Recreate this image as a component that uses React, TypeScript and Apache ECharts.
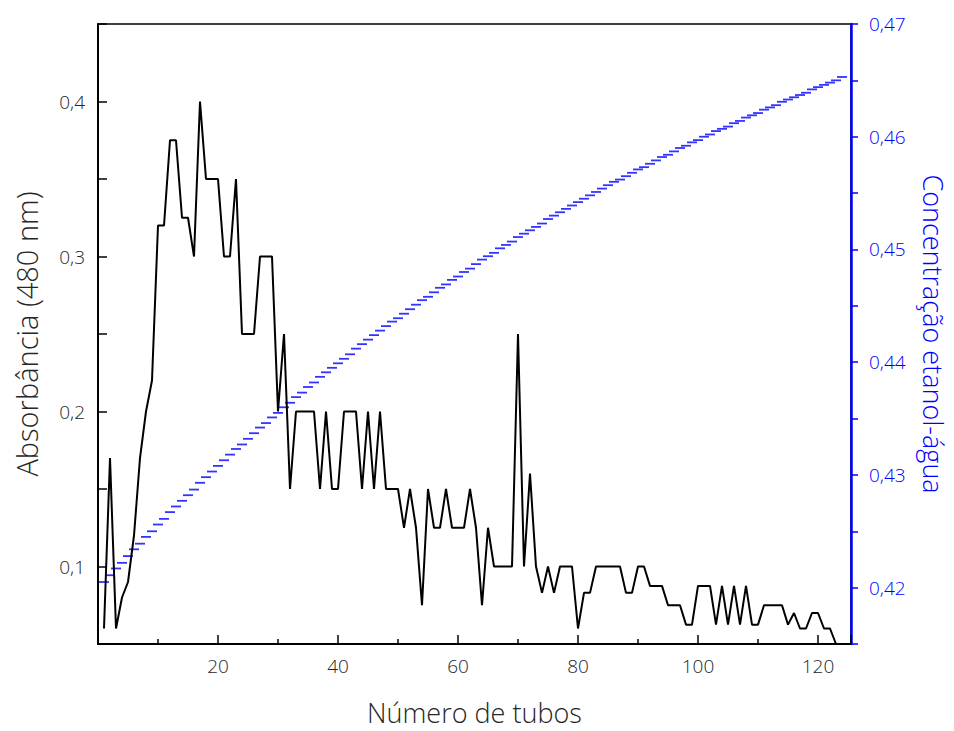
import React, { useEffect, useRef } from 'react';
import * as echarts from 'echarts';

// Absorbância (480 nm) for tubes 1..123
const absorbance = [
  0.06, 0.17, 0.06, 0.08, 0.09, 0.12, 0.17, 0.2, 0.22, 0.32,
  0.32, 0.375, 0.375, 0.325, 0.325, 0.3, 0.4, 0.35, 0.35, 0.35,
  0.3, 0.3, 0.35, 0.25, 0.25, 0.25, 0.3, 0.3, 0.3, 0.2,
  0.25, 0.15, 0.2, 0.2, 0.2, 0.2, 0.15, 0.2, 0.15, 0.15,
  0.2, 0.2, 0.2, 0.15, 0.2, 0.15, 0.2, 0.15, 0.15, 0.15,
  0.125, 0.15, 0.125, 0.075, 0.15, 0.125, 0.125, 0.15, 0.125, 0.125,
  0.125, 0.15, 0.125, 0.075, 0.125, 0.1, 0.1, 0.1, 0.1, 0.25,
  0.1, 0.16, 0.1, 0.083, 0.1, 0.083, 0.1, 0.1, 0.1, 0.06,
  0.083, 0.083, 0.1, 0.1, 0.1, 0.1, 0.1, 0.083, 0.083, 0.1,
  0.1, 0.0875, 0.0875, 0.0875, 0.075, 0.075, 0.075, 0.0625, 0.0625, 0.0875,
  0.0875, 0.0875, 0.0625, 0.0875, 0.0625, 0.0875, 0.0625, 0.0875, 0.0625, 0.0625,
  0.075, 0.075, 0.075, 0.075, 0.0625, 0.07, 0.06, 0.06, 0.07, 0.07,
  0.06, 0.06, 0.05,
];

// Concentração etanol-água for tubes 1..124
const concentration = [
  0.4205, 0.4211, 0.4217, 0.4222, 0.4228, 0.4234, 0.4239, 0.4245, 0.4250, 0.4256,
  0.4261, 0.4267, 0.4272, 0.4277, 0.4282, 0.4287, 0.4293, 0.4298, 0.4303, 0.4308,
  0.4313, 0.4318, 0.4323, 0.4327, 0.4332, 0.4337, 0.4342, 0.4346, 0.4351, 0.4355,
  0.4360, 0.4364, 0.4369, 0.4373, 0.4378, 0.4382, 0.4387, 0.4391, 0.4395, 0.4399,
  0.4403, 0.4407, 0.4412, 0.4416, 0.4420, 0.4424, 0.4428, 0.4432, 0.4436, 0.4439,
  0.4443, 0.4447, 0.4451, 0.4455, 0.4458, 0.4462, 0.4466, 0.4469, 0.4473, 0.4476,
  0.4480, 0.4483, 0.4487, 0.4491, 0.4494, 0.4497, 0.4501, 0.4504, 0.4507, 0.4511,
  0.4514, 0.4517, 0.4520, 0.4523, 0.4527, 0.4530, 0.4533, 0.4536, 0.4539, 0.4542,
  0.4545, 0.4548, 0.4551, 0.4554, 0.4557, 0.4560, 0.4562, 0.4565, 0.4568, 0.4571,
  0.4573, 0.4576, 0.4579, 0.4582, 0.4584, 0.4587, 0.4590, 0.4592, 0.4595, 0.4597,
  0.4600, 0.4602, 0.4605, 0.4607, 0.4609, 0.4612, 0.4614, 0.4617, 0.4619, 0.4621,
  0.4624, 0.4626, 0.4628, 0.4631, 0.4633, 0.4635, 0.4637, 0.4639, 0.4642, 0.4644,
  0.4646, 0.4648, 0.4650, 0.4653,
];

const xLabels = [20, 40, 60, 80, 100, 120];
const leftLabels = [0.1, 0.2, 0.3, 0.4];
const rightLabels = [0.42, 0.43, 0.44, 0.45, 0.46, 0.47];

const FONT = '"Open Sans", "DejaVu Sans", sans-serif';
const BLUE = '#0000ff';
const TEXT = '#262626';

const near = (list: number[], v: number, eps: number) => list.some((l) => Math.abs(l - v) < eps);
const comma = (v: number, d: number) => v.toFixed(d).replace('.', ',');

export default function App() {
  const ref = useRef<HTMLDivElement>(null);
  useEffect(() => {
    const chart = echarts.init(ref.current!, null, { renderer: 'svg' });
    chart.setOption({
      animation: false,
      grid: {
        left: 98, right: 103, top: 24, bottom: 87,
        containLabel: false, outerBoundsMode: 'none',
        show: true, borderColor: '#000', borderWidth: 1.5, backgroundColor: 'transparent',
      },
      xAxis: {
        type: 'value', min: 0, max: 125.5, interval: 20,
        name: 'Número de tubos', nameLocation: 'middle', nameGap: 55,
        nameTextStyle: { fontSize: 27, lineHeight: 27, color: TEXT, fontFamily: FONT, fontWeight: 300 },
        axisLine: { show: true, lineStyle: { color: '#000', width: 2 } },
        axisTick: { show: true, inside: true, length: 9, lineStyle: { color: '#000', width: 1.5 } },
        minorTick: { show: true, splitNumber: 2, length: 5, lineStyle: { color: '#000', width: 1.5 } },
        splitLine: { show: false },
        axisLabel: {
          margin: 12, fontSize: 19, color: TEXT, fontFamily: FONT, fontWeight: 300,
          formatter: (v: number) => (near(xLabels, v, 0.01) ? String(v) : ''),
        },
      },
      yAxis: [
        {
          type: 'value', position: 'left', min: 0.05, max: 0.45, interval: 0.05,
          name: 'Absorbância (480 nm)', nameLocation: 'middle', nameGap: 57, nameRotate: 90,
          nameTextStyle: { fontSize: 29, color: TEXT, fontFamily: FONT, fontWeight: 300 },
          axisLine: { show: true, lineStyle: { color: '#000', width: 2 } },
          axisTick: { show: true, inside: true, length: 9, lineStyle: { color: '#000', width: 1.5 } },
          splitLine: { show: false },
          axisLabel: {
            margin: 13, fontSize: 19, color: TEXT, fontFamily: FONT, fontWeight: 300,
            formatter: (v: number) => (near(leftLabels, v, 1e-4) ? comma(v, 1) : ''),
          },
        },
        {
          type: 'value', position: 'right', min: 0.415, max: 0.47, interval: 0.005,
          name: 'Concentração etanol-água', nameLocation: 'middle', nameGap: 69, nameRotate: -90,
          nameTextStyle: { fontSize: 27, lineHeight: 27, color: BLUE, fontFamily: FONT, fontWeight: 300 },
          axisLine: { show: true, lineStyle: { color: BLUE, width: 2.5 } },
          axisTick: { show: true, inside: false, length: 7, lineStyle: { color: BLUE, width: 1.5 } },
          splitLine: { show: false },
          axisLabel: {
            margin: 18, fontSize: 19, color: BLUE, fontFamily: FONT, fontWeight: 300,
            formatter: (v: number) => (near(rightLabels, v, 1e-5) ? comma(v, 2) : ''),
          },
        },
      ],
      series: [
        {
          type: 'scatter', yAxisIndex: 1, symbol: 'rect', symbolSize: [10, 1.8],
          itemStyle: { color: BLUE },
          data: concentration.map((v, i) => [i + 1, v]),
          z: 2,
        },
        {
          type: 'line', yAxisIndex: 0, showSymbol: false, symbol: 'none',
          lineStyle: { color: '#000', width: 2 },
          data: absorbance.map((v, i) => [i + 1, v]),
          z: 3,
        },
      ],
    });
    return () => chart.dispose();
  }, []);
  return <div ref={ref} style={{ position: 'absolute', left: 0, top: 0, width: 954, height: 731 }} />;
}
